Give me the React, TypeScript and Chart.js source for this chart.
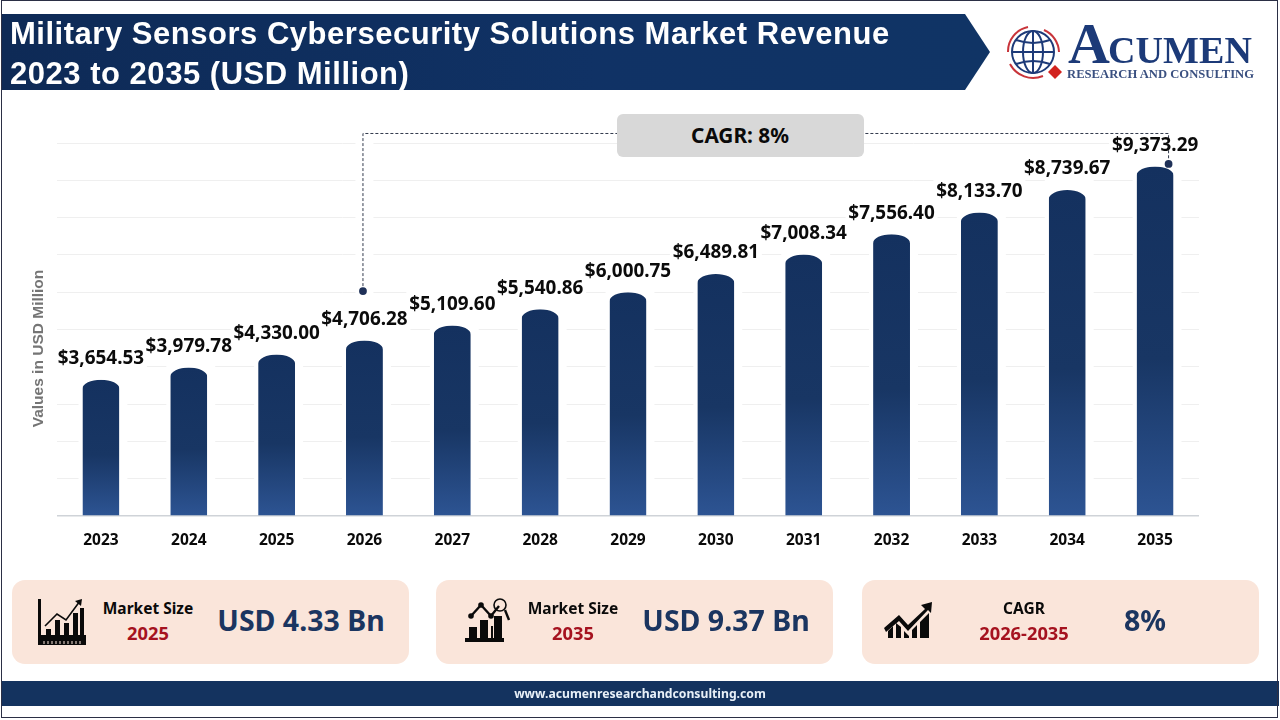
import { useEffect, useRef } from "react";
import type { CSSProperties, ReactNode } from "react";
import { Chart, registerables } from "chart.js";

const years = ["2023", "2024", "2025", "2026", "2027", "2028", "2029", "2030", "2031", "2032", "2033", "2034", "2035"];
const revenue = [3654.53, 3979.78, 4330.0, 4706.28, 5109.6, 5540.86, 6000.75, 6489.81, 7008.34, 7556.4, 8133.7, 8739.67, 9373.29];

// where the dashed CAGR bracket sits, in chart units
const cagrYears = ["2026", "2035"];
const cagrDotValues = [6030, 9440];
const cagrLineValue = 10255;

const NAVY = "#16335f";
const FONT = '"Noto Sans", sans-serif';

const money = (v: number) =>
  "$" + v.toLocaleString("en-US", { minimumFractionDigits: 2, maximumFractionDigits: 2 });

const capHeight = 9;

const chromePlugin = {
  id: "chrome",
  beforeDatasetsDraw(chart: any) {
    const { ctx, chartArea, scales } = chart;
    const bars = chart.getDatasetMeta(0).data;
    ctx.save();
    ctx.fillStyle = "#fff";
    // the gridlines stop short of the bars, the labels and the bracket
    bars.forEach((bar: any) => {
      const w = bar.width;
      ctx.fillRect(bar.x - w / 2 - 4, bar.y - 10, w + 12, chartArea.bottom - bar.y + 9);
      ctx.fillRect(bar.x - 46, bar.y - 34, 92, 24);
    });
    const sx = scales.x.getPixelForValue(years.indexOf(cagrYears[0]));
    ctx.fillRect(sx - 9, scales.y.getPixelForValue(cagrLineValue), 18, scales.y.getPixelForValue(cagrDotValues[0]) - scales.y.getPixelForValue(cagrLineValue) + 6);
    ctx.restore();
  },
  beforeDatasetDraw(chart: any) {
    // elliptical tops, the bar element only knows circular corners
    const { ctx, chartArea } = chart;
    ctx.save();
    ctx.beginPath();
    chart.getDatasetMeta(0).data.forEach((bar: any) => {
      const l = bar.x - bar.width / 2;
      const r = bar.x + bar.width / 2;
      ctx.moveTo(l, chartArea.bottom);
      ctx.lineTo(l, bar.y + capHeight);
      ctx.ellipse(bar.x, bar.y + capHeight, bar.width / 2, capHeight, 0, Math.PI, 2 * Math.PI);
      ctx.lineTo(r, chartArea.bottom);
      ctx.closePath();
    });
    ctx.clip();
  },
  afterDatasetDraw(chart: any) {
    chart.ctx.restore();
  },
  afterDatasetsDraw(chart: any) {
    const { ctx, scales } = chart;
    const bars = chart.getDatasetMeta(0).data;

    // dashed bracket
    const x0 = scales.x.getPixelForValue(years.indexOf(cagrYears[0]));
    const x1 = scales.x.getPixelForValue(years.indexOf(cagrYears[1])) + 13.5;
    const y0 = scales.y.getPixelForValue(cagrDotValues[0]);
    const y1 = scales.y.getPixelForValue(cagrDotValues[1]);
    const top = scales.y.getPixelForValue(cagrLineValue);
    ctx.save();
    ctx.strokeStyle = "#333b4d";
    ctx.lineWidth = 1;
    ctx.setLineDash([3, 2]);
    ctx.beginPath();
    ctx.moveTo(x0 - 1.5, y0);
    ctx.lineTo(x0 - 1.5, top);
    ctx.lineTo(x1, top);
    ctx.lineTo(x1, y1);
    ctx.stroke();
    ctx.setLineDash([]);
    ctx.fillStyle = "#1f3158";
    [[x0 - 1.5, y0], [x1, y1]].forEach(([x, y]) => {
      ctx.beginPath();
      ctx.arc(x, y, 3.9, 0, 2 * Math.PI);
      ctx.fill();
    });

    // value labels
    ctx.fillStyle = "#0b0b0b";
    ctx.font = `700 18.9px ${FONT}`;
    ctx.textAlign = "center";
    ctx.textBaseline = "middle";
    bars.forEach((bar: any, i: number) => {
      ctx.fillText(money(revenue[i]), bar.x, bar.y - 21);
    });

    // axis title sits lower than the middle of the plot
    ctx.translate(39, 348.5);
    ctx.rotate(-Math.PI / 2);
    ctx.fillStyle = "#757575";
    ctx.font = '700 15.5px "Liberation Sans", sans-serif';
    ctx.fillText("Values in USD Million", 0, 0);
    ctx.restore();
  },
};

const Txt = ({ x, y, size, color, weight = 700, family = FONT, children }: {
  x: number; y: number; size: number; color: string; weight?: number; family?: string; children: ReactNode;
}) => {
  const style: CSSProperties = {
    position: "absolute", left: x, top: y, transform: "translate(-50%, -50%)", whiteSpace: "nowrap",
    fontFamily: family, fontSize: size, fontWeight: weight, color, lineHeight: 1,
  };
  return <div style={style}>{children}</div>;
};

const box = (left: number, top: number, width: number, height: number, extra: CSSProperties): CSSProperties => ({
  position: "absolute", left, top, width, height, ...extra,
});

const Card = ({ left, head, sub, headX, value, valueX }: {
  left: number; head: string; sub: string; headX: number; value: string; valueX: number;
}) => (
  <>
    <div style={box(left, 580, 397, 84, { background: "#fae5da", borderRadius: 13 })} />
    <Txt x={headX} y={609} size={15.5} color="#0a0a0a">{head}</Txt>
    <Txt x={headX} y={633} size={18.3} color="#a5121f">{sub}</Txt>
    <Txt x={valueX} y={620} size={28.5} color="#1b3560">{value}</Txt>
  </>
);

const Icons = () => (
  <svg width={1280} height={720} style={{ position: "absolute", left: 0, top: 0 }}>
    {/* card 1 */}
    <g fill="#0a0a0a">
      <rect x={38} y={599} width={3} height={40} />
      <rect x={38} y={635} width={48} height={10} />
      <rect x={46} y={629} width={5} height={6} />
      <rect x={55} y={620} width={5} height={15} />
      <rect x={64} y={623} width={5} height={12} />
      <rect x={73} y={613} width={5} height={22} />
      <rect x={80} y={608} width={4} height={27} />
      <path d="M45 626 L57 614 L66 620 L80 601" fill="none" stroke="#0a0a0a" strokeWidth={1.6} />
      <path d="M75 601 L82 599 L81 606 Z" />
    </g>
    <g stroke="#fae5da" strokeWidth={1}>
      {[44, 48, 52, 56, 60, 64, 68, 72, 76, 80].map((x) => <line key={x} x1={x} x2={x} y1={641} y2={644} />)}
    </g>
    {/* card 2 */}
    <g fill="#0a0a0a">
      <rect x={465} y={638} width={39} height={4} />
      <rect x={469} y={627} width={8} height={11} />
      <rect x={480} y={620} width={8} height={18} />
      <rect x={491} y={626} width={2} height={12} />
      <rect x={494} y={616} width={8} height={22} />
      <path d="M471 616 L481 605 L491 616 L499 606" fill="none" stroke="#0a0a0a" strokeWidth={2.4} />
      <circle cx={471} cy={616} r={2.8} />
      <circle cx={481} cy={605} r={2.8} />
      <circle cx={491} cy={616} r={2.8} />
      <circle cx={500} cy={605} r={6} fill="none" stroke="#0a0a0a" strokeWidth={1.6} />
      <path d="M505 610 L509 620" stroke="#0a0a0a" strokeWidth={2.4} />
    </g>
    {/* card 3 */}
    <g fill="#0a0a0a">
      <path d="M884 628 L899 615 L908 625 L925 609 L921 605 L932 602 L931 613 L928 610 L908 631 L899 621 L886 632 Z" />
      <path d="M888 638 L888 631 L893 626 L893 638 Z M896 638 L896 623 L901 627 L901 638 Z M904 638 L904 631 L909 636 L909 638 Z M912 638 L912 630 L917 625 L917 638 Z M920 638 L920 622 L929 613 L929 638 Z" />
    </g>
    {/* logo */}
    <g fill="none">
      <g stroke="#1d3a78" strokeWidth={2}>
        <circle cx={1033} cy={52} r={21} />
        <ellipse cx={1033} cy={52} rx={10} ry={21} />
        <line x1={1033} x2={1033} y1={31} y2={73} />
        <line x1={1012} x2={1054} y1={52} y2={52} />
        <path d="M1016 40 Q1033 46 1050 40 M1016 64 Q1033 58 1050 64" />
      </g>
      <g stroke="#c8343a" strokeWidth={2}>
        <path d="M1008 52 A25 25 0 0 1 1028 27" />
        <path d="M1044 30 A25 25 0 0 1 1059 52" />
        <path d="M1010 64 A26 26 0 0 0 1043 76" />
      </g>
    </g>
    <path d="M1055 65 L1062 72 L1055 79 L1048 72 Z" fill="#d2231f" />
    <text x={1068} y={63} fontFamily='"Liberation Serif", serif' fontWeight={700} fontSize={58} fill="#1c3a78">A</text>
    <text x={1108} y={63} fontFamily='"Liberation Serif", serif' fontWeight={700} fontSize={38} fill="#1c3a78" textLength={144}>CUMEN</text>
    <text x={1067} y={78} fontFamily='"Liberation Serif", serif' fontWeight={700} fontSize={12.6} fill="#3a5080" textLength={187}>RESEARCH AND CONSULTING</text>
  </svg>
);

export default function App() {
  const canvasRef = useRef<HTMLCanvasElement>(null);

  useEffect(() => {
    const ctx = canvasRef.current?.getContext("2d");
    if (!ctx) return;

    Chart.register(...registerables);

    const chart = new Chart(ctx, {
      type: "bar",
      data: {
        labels: years,
        datasets: [
          {
            label: "Revenue",
            data: revenue,
            barPercentage: 0.42,
            categoryPercentage: 1,
            backgroundColor: (c: any) => {
              const { chartArea, scales } = c.chart;
              if (!chartArea || c.raw === undefined) return NAVY;
              const top = scales.y.getPixelForValue(c.raw);
              const g = c.chart.ctx.createLinearGradient(0, top, 0, chartArea.bottom);
              g.addColorStop(0, "#14315f");
              g.addColorStop(0.55, "#183664");
              g.addColorStop(1, "#2d5493");
              return g;
            },
          },
        ],
      },
      options: {
        responsive: false,
        animation: false,
        layout: { padding: { left: 57, right: 81, top: 143, bottom: 164 } },
        plugins: { legend: { display: false }, title: { display: false }, tooltip: { enabled: false } },
        scales: {
          x: {
            grid: { display: false, drawTicks: false },
            border: { display: false },
            afterFit: (s: any) => { s.height = 40; },
            ticks: { color: "#0a0a0a", padding: 15, maxRotation: 0, font: { family: FONT, size: 15.5, weight: "bold" } },
          },
          y: {
            min: 0,
            max: 10000,
            afterFit: (s: any) => { s.width = 0; },
            border: { display: false },
            grid: {
              drawTicks: false,
              lineWidth: (c: any) => (c.tick.value === 0 ? 1.5 : 1),
              color: (c: any) => (c.tick.value === 0 ? "#cfd3d8" : "#efefef"),
            },
            ticks: { stepSize: 1000, display: false },
          },
        },
      },
      plugins: [chromePlugin],
    } as any);

    return () => {
      chart.destroy();
    };
  }, []);

  return (
    <div style={{ position: "absolute", left: 0, top: 0, width: 1280, height: 720, overflow: "hidden", background: "#fff" }}>
      <canvas ref={canvasRef} width={1280} height={720} style={{ position: "absolute", left: 0, top: 0, display: "block" }} />

      {/* banner */}
      <div style={box(1, 14, 989, 76, {
        background: "linear-gradient(90deg, #0e2a56 0%, #103265 60%, #103465 100%)",
        clipPath: "polygon(0 0, 964px 0, 989px 38px, 964px 76px, 0 76px)",
      })} />
      {["Military Sensors Cybersecurity Solutions Market Revenue", "2023 to 2035 (USD Million)"].map((line, i) => (
        <div key={line} style={{
          position: "absolute", left: 10, top: 33 + i * 40, transform: "translateY(-50%)", whiteSpace: "nowrap",
          fontFamily: '"Liberation Sans", sans-serif', fontWeight: 700, fontSize: 31, lineHeight: 1, color: "#fff",
          letterSpacing: 0.52,
        }}>{line}</div>
      ))}

      {/* CAGR flag */}
      <div style={box(617, 114, 247, 43, { background: "#d8d8d8", borderRadius: 6 })} />
      <Txt x={740} y={135} size={20.8} color="#0a0a0a">CAGR: 8%</Txt>

      <Card left={12} head="Market Size" sub="2025" headX={148} value="USD 4.33 Bn" valueX={301} />
      <Card left={436} head="Market Size" sub="2035" headX={573} value="USD 9.37 Bn" valueX={726} />
      <Card left={862} head="CAGR" sub="2026-2035" headX={1024} value="8%" valueX={1145} />
      <Icons />

      {/* footer */}
      <div style={box(1, 681, 1278, 25, { background: "#14335f" })} />
      <Txt x={640} y={694} size={12.2} color="#e8f0f8">www.acumenresearchandconsulting.com</Txt>

      {/* frame */}
      <div style={box(1, 0, 1277, 718, { boxSizing: "border-box", border: "1px solid #2b2f45", pointerEvents: "none" })} />
    </div>
  );
}
